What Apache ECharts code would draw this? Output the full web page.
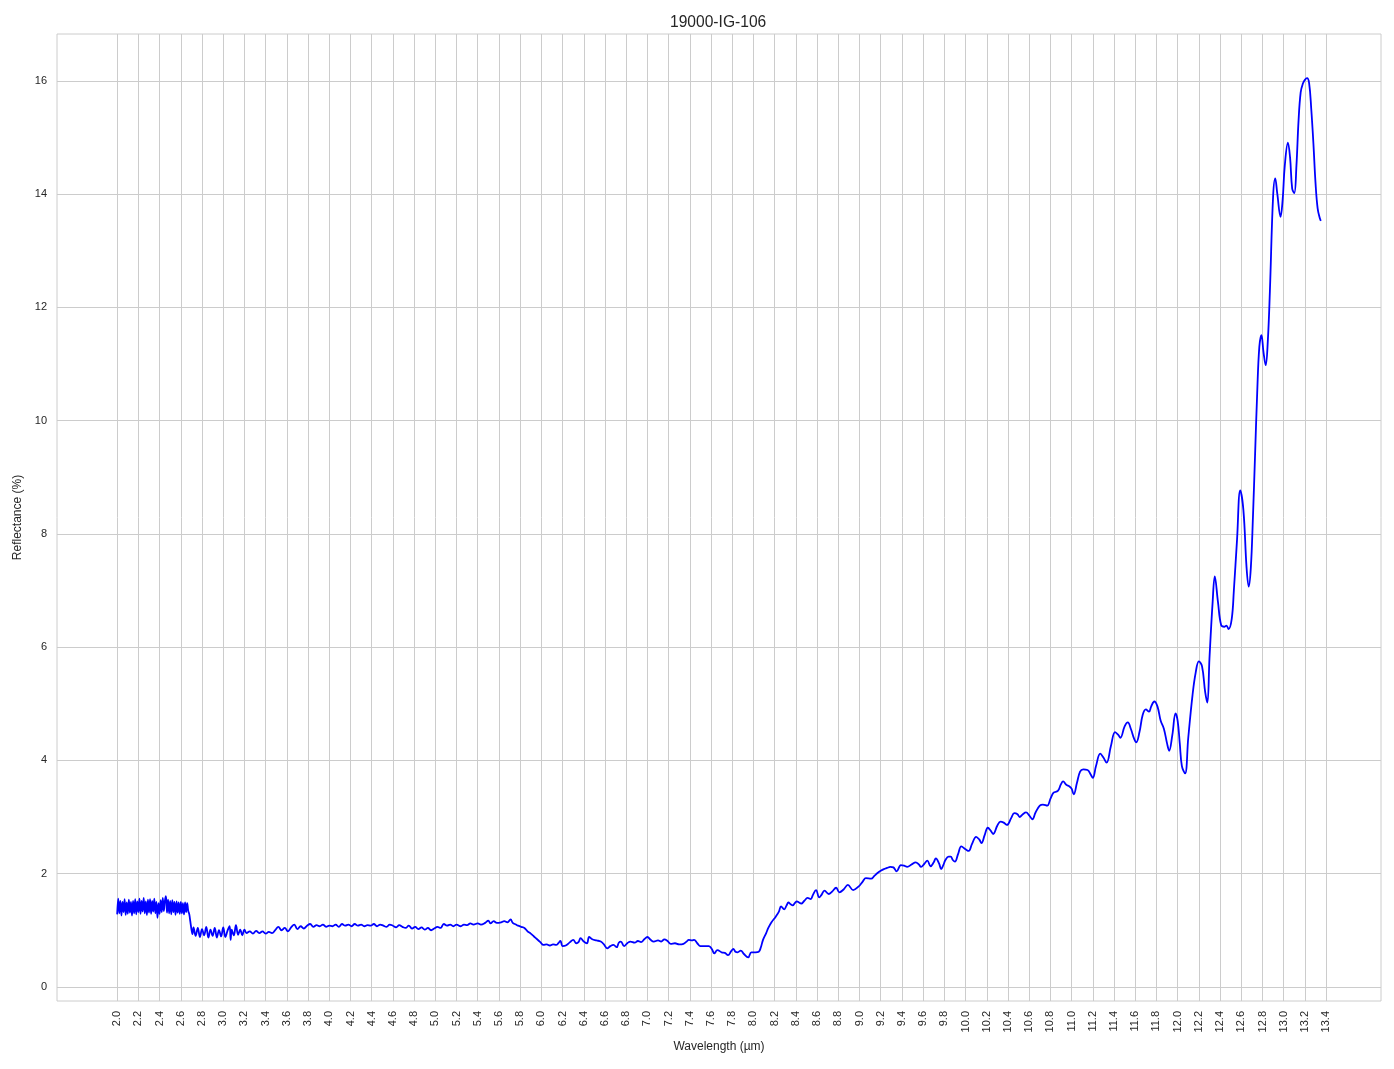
<!DOCTYPE html>
<html><head><meta charset="utf-8">
<script src="https://cdn.jsdelivr.net/npm/echarts@6/dist/echarts.min.js"></script>
<style>html,body{margin:0;padding:0;background:#fff}#c{width:1394px;height:1069px}</style>
</head><body><div id="c"></div>
<script>
const chartTitle = '19000-IG-106';
const xTicks = [2.0,2.2,2.4,2.6,2.8,3.0,3.2,3.4,3.6,3.8,4.0,4.2,4.4,4.6,4.8,5.0,5.2,5.4,5.6,5.8,6.0,6.2,6.4,6.6,6.8,7.0,7.2,7.4,7.6,7.8,8.0,8.2,8.4,8.6,8.8,9.0,9.2,9.4,9.6,9.8,10.0,10.2,10.4,10.6,10.8,11.0,11.2,11.4,11.6,11.8,12.0,12.2,12.4,12.6,12.8,13.0,13.2,13.4];
const yTicks = [0,2,4,6,8,10,12,14,16];

const wavelength = [
2.00,2.01,2.02,2.03,2.04,2.05,2.06,2.07,2.08,2.09,2.10,2.11,2.12,2.13,2.14,2.15,2.16,2.17,2.18,2.19,
2.20,2.21,2.22,2.23,2.24,2.25,2.26,2.27,2.28,2.29,2.30,2.31,2.32,2.33,2.34,2.35,2.36,2.37,2.38,2.39,
2.40,2.41,2.42,2.43,2.44,2.45,2.46,2.47,2.48,2.49,2.50,2.51,2.52,2.53,2.54,2.55,2.56,2.57,2.58,2.59,
2.60,2.61,2.62,2.63,2.64,2.65,2.66,2.67,2.68,2.69,2.70,
2.71,2.72,2.74,2.76,2.78,2.80,2.82,2.84,2.86,2.88,2.90,2.92,2.94,2.96,2.98,3.00,3.02,3.04,3.06,3.07,3.08,3.10,3.12,3.14,3.16,3.18,3.20,
3.22,3.25,3.28,3.31,3.34,3.37,3.40,3.43,3.46,3.49,3.52,3.55,3.58,3.61,3.64,3.67,3.70,3.73,3.76,3.79,3.82,3.85,3.88,3.91,3.94,3.97,
4.00,4.03,4.06,4.09,4.12,4.15,4.18,4.21,4.24,4.27,4.30,4.33,4.36,4.39,4.42,4.45,4.48,4.51,4.54,4.57,4.60,4.63,4.66,4.69,4.72,4.75,4.78,
4.81,4.84,4.87,4.90,4.93,4.96,4.99,5.02,5.05,5.08,5.11,5.14,5.17,5.20,5.24,5.27,5.30,5.33,5.36,5.40,5.43,5.47,5.50,5.52,5.55,5.58,5.62,
5.65,5.68,5.71,5.73,5.76,5.78,5.81,5.84,5.87,5.90,5.93,5.96,5.99,6.02,6.05,6.08,6.11,6.14,6.16,6.18,6.20,6.23,6.27,6.30,6.33,6.35,6.37,
6.40,6.43,6.45,6.48,6.52,6.56,6.59,6.62,6.65,6.68,6.71,6.73,6.75,6.78,6.81,6.84,6.88,6.91,6.94,6.97,7.00,7.03,7.06,7.10,7.13,7.16,7.19,
7.22,7.26,7.30,7.34,7.37,7.39,7.42,7.44,7.47,7.50,7.54,7.58,7.61,7.63,7.66,7.70,7.73,7.76,7.79,7.81,7.83,7.85,7.88,7.91,7.95,7.98,
8.02,8.05,8.07,8.09,8.12,8.14,8.17,8.21,8.24,8.26,8.29,8.31,8.33,8.35,8.37,8.39,8.41,8.43,8.45,8.48,8.51,8.54,8.56,8.59,8.62,8.64,8.67,
8.71,8.74,8.78,8.81,8.85,8.89,8.94,8.99,9.03,9.06,9.11,9.14,9.17,9.20,9.23,9.26,9.29,9.32,9.35,9.39,9.42,9.45,9.49,9.53,9.56,9.58,
9.61,9.64,9.67,9.70,9.72,9.75,9.77,9.79,9.81,9.84,9.86,9.88,9.90,9.93,9.96,10.00,10.03,10.06,10.10,10.13,10.15,10.18,10.21,10.24,10.26,
10.30,10.33,10.36,10.39,10.43,10.46,10.49,10.51,10.54,10.57,10.60,10.63,10.66,10.70,10.73,10.77,10.80,10.83,10.87,10.90,10.92,10.95,
10.98,11.00,11.02,11.05,11.08,11.11,11.15,11.18,11.20,11.23,11.27,11.30,11.33,11.37,11.41,11.44,11.46,11.50,11.53,11.56,11.59,11.61,
11.64,11.67,11.70,11.73,11.75,11.78,11.81,11.84,11.87,11.90,11.92,11.95,11.98,12.00,12.02,12.04,12.07,12.10,12.14,12.17,12.20,12.23,
12.26,12.28,12.30,12.33,12.35,12.38,12.41,12.44,12.46,12.48,12.51,12.53,12.56,12.59,12.62,12.65,12.67,12.69,12.71,12.73,12.75,12.77,
12.79,12.81,12.83,12.85,12.87,12.90,12.92,12.94,12.97,12.99,13.01,13.04,13.06,13.08,13.10,13.12,13.14,13.16,13.18,13.20,13.22,13.24,
13.26,13.28,13.30,13.32,13.34,13.35
];
const reflectance = [
1.28,1.56,1.30,1.52,1.26,1.50,1.32,1.55,1.27,1.49,1.29,1.54,1.31,1.50,1.26,1.52,1.30,1.55,1.28,1.51,
1.32,1.56,1.29,1.52,1.33,1.57,1.30,1.51,1.27,1.54,1.31,1.55,1.29,1.52,1.33,1.56,1.30,1.50,1.22,1.48,
1.29,1.53,1.32,1.57,1.34,1.52,1.60,1.31,1.54,1.30,1.52,1.28,1.53,1.32,1.50,1.27,1.51,1.31,1.49,1.29,
1.50,1.30,1.48,1.28,1.49,1.32,1.48,1.34,1.28,1.15,1.02,
0.93,1.05,0.90,1.04,0.88,1.02,0.91,1.06,0.87,1.01,0.90,1.04,0.87,1.00,0.89,1.05,0.88,0.99,1.07,0.83,1.01,0.91,1.09,0.92,1.01,0.91,1.01,
0.95,0.98,0.94,0.99,0.95,0.98,0.94,0.97,0.95,1.00,1.06,1.00,1.04,0.98,1.05,1.10,1.02,1.07,1.03,1.08,1.11,1.06,1.09,1.07,1.10,1.06,
1.08,1.07,1.10,1.06,1.11,1.08,1.10,1.07,1.11,1.08,1.10,1.07,1.09,1.08,1.11,1.07,1.10,1.08,1.06,1.10,1.08,1.05,1.09,1.06,1.04,1.08,1.03,
1.06,1.02,1.05,1.01,1.04,1.00,1.03,1.06,1.04,1.11,1.08,1.10,1.07,1.10,1.07,1.10,1.09,1.12,1.10,1.12,1.10,1.13,1.17,1.12,1.16,1.13,1.14,
1.16,1.14,1.19,1.13,1.10,1.08,1.06,1.04,0.98,0.94,0.89,0.84,0.79,0.74,0.75,0.73,0.75,0.74,0.77,0.81,0.72,0.73,0.79,0.83,0.77,0.79,0.86,
0.80,0.77,0.88,0.84,0.82,0.80,0.75,0.68,0.72,0.74,0.70,0.78,0.80,0.72,0.77,0.80,0.78,0.81,0.79,0.84,0.88,0.83,0.80,0.82,0.80,0.84,0.81,
0.76,0.77,0.75,0.76,0.80,0.83,0.82,0.83,0.77,0.72,0.72,0.72,0.66,0.59,0.65,0.61,0.60,0.56,0.63,0.67,0.62,0.61,0.64,0.58,0.52,0.61,
0.61,0.62,0.70,0.83,0.95,1.04,1.14,1.24,1.33,1.42,1.37,1.43,1.49,1.46,1.44,1.48,1.51,1.49,1.47,1.52,1.57,1.55,1.62,1.71,1.58,1.62,1.70,
1.64,1.68,1.75,1.67,1.72,1.80,1.71,1.77,1.86,1.92,1.91,1.96,2.01,2.05,2.08,2.10,2.12,2.11,2.04,2.15,2.14,2.12,2.16,2.20,2.16,2.12,
2.17,2.23,2.13,2.20,2.27,2.18,2.08,2.15,2.24,2.30,2.30,2.24,2.21,2.35,2.48,2.43,2.40,2.52,2.65,2.60,2.54,2.68,2.81,2.75,2.70,
2.85,2.92,2.90,2.86,2.98,3.07,3.05,3.00,3.05,3.08,3.03,2.96,3.08,3.20,3.22,3.20,3.32,3.43,3.46,3.58,3.63,3.57,
3.54,3.50,3.40,3.60,3.80,3.84,3.83,3.75,3.69,3.90,4.12,4.05,3.96,4.25,4.50,4.45,4.40,4.60,4.67,4.55,4.38,4.32,
4.50,4.80,4.90,4.86,4.95,5.04,4.95,4.70,4.56,4.30,4.17,4.45,4.83,4.70,4.30,3.90,3.77,4.40,5.15,5.55,5.75,5.66,
5.20,5.02,5.80,6.80,7.25,6.80,6.39,6.36,6.38,6.32,6.50,7.00,7.90,8.77,8.42,7.40,7.07,7.40,8.30,9.40,10.49,11.30,
11.51,11.20,10.98,11.40,12.30,13.96,14.28,14.00,13.60,13.90,14.50,14.91,14.65,14.10,14.02,14.50,15.30,15.80,15.95,16.02,16.05,15.96,
15.50,14.90,14.20,13.75,13.58,13.53
];

const data = wavelength.map((w, i) => [w, reflectance[i]]);
const chart = echarts.init(document.getElementById('c'), null, {renderer: 'canvas'});
const txt = '#262626';
const gridC = '#cccccc';
chart.setOption({
  backgroundColor: '#ffffff',
  animation: false,
  title: {text: chartTitle, left: 665, top: 10, textStyle: {fontFamily: 'Liberation Sans', fontSize: 15.6, fontWeight: 'normal', color: txt}},
  grid: {left: 57, right: 13, top: 34, bottom: 68, show: true, borderColor: gridC, borderWidth: 1, containLabel: false},
  xAxis: {
    type: 'value', min: 1.4325, max: 13.9175,
    name: 'Wavelength (µm)', nameLocation: 'middle', nameGap: 40,
    nameTextStyle: {fontFamily: 'Liberation Sans', fontSize: 12, color: txt},
    axisLine: {show: false}, axisTick: {show: false, customValues: xTicks},
    axisLabel: {customValues: xTicks, rotate: 90, margin: 10, fontFamily: 'Liberation Sans', fontSize: 11, color: txt, formatter: v => v.toFixed(1)},
    splitLine: {show: true, lineStyle: {color: gridC, width: 1}}
  },
  yAxis: {
    type: 'value', min: -0.25, max: 16.83,
    name: 'Reflectance (%)', nameLocation: 'middle', nameGap: 33,
    nameTextStyle: {fontFamily: 'Liberation Sans', fontSize: 12, color: txt},
    axisLine: {show: false}, axisTick: {show: false, customValues: yTicks},
    axisLabel: {customValues: yTicks, margin: 10, fontFamily: 'Liberation Sans', fontSize: 11, color: txt, formatter: v => String(v)},
    splitLine: {show: true, lineStyle: {color: gridC, width: 1}}
  },
  series: [{
    type: 'line', data: data, showSymbol: false, smooth: 0.4,
    lineStyle: {color: '#0000ff', width: 1.8}, itemStyle: {color: '#0000ff'}
  }]
});
</script></body></html>
